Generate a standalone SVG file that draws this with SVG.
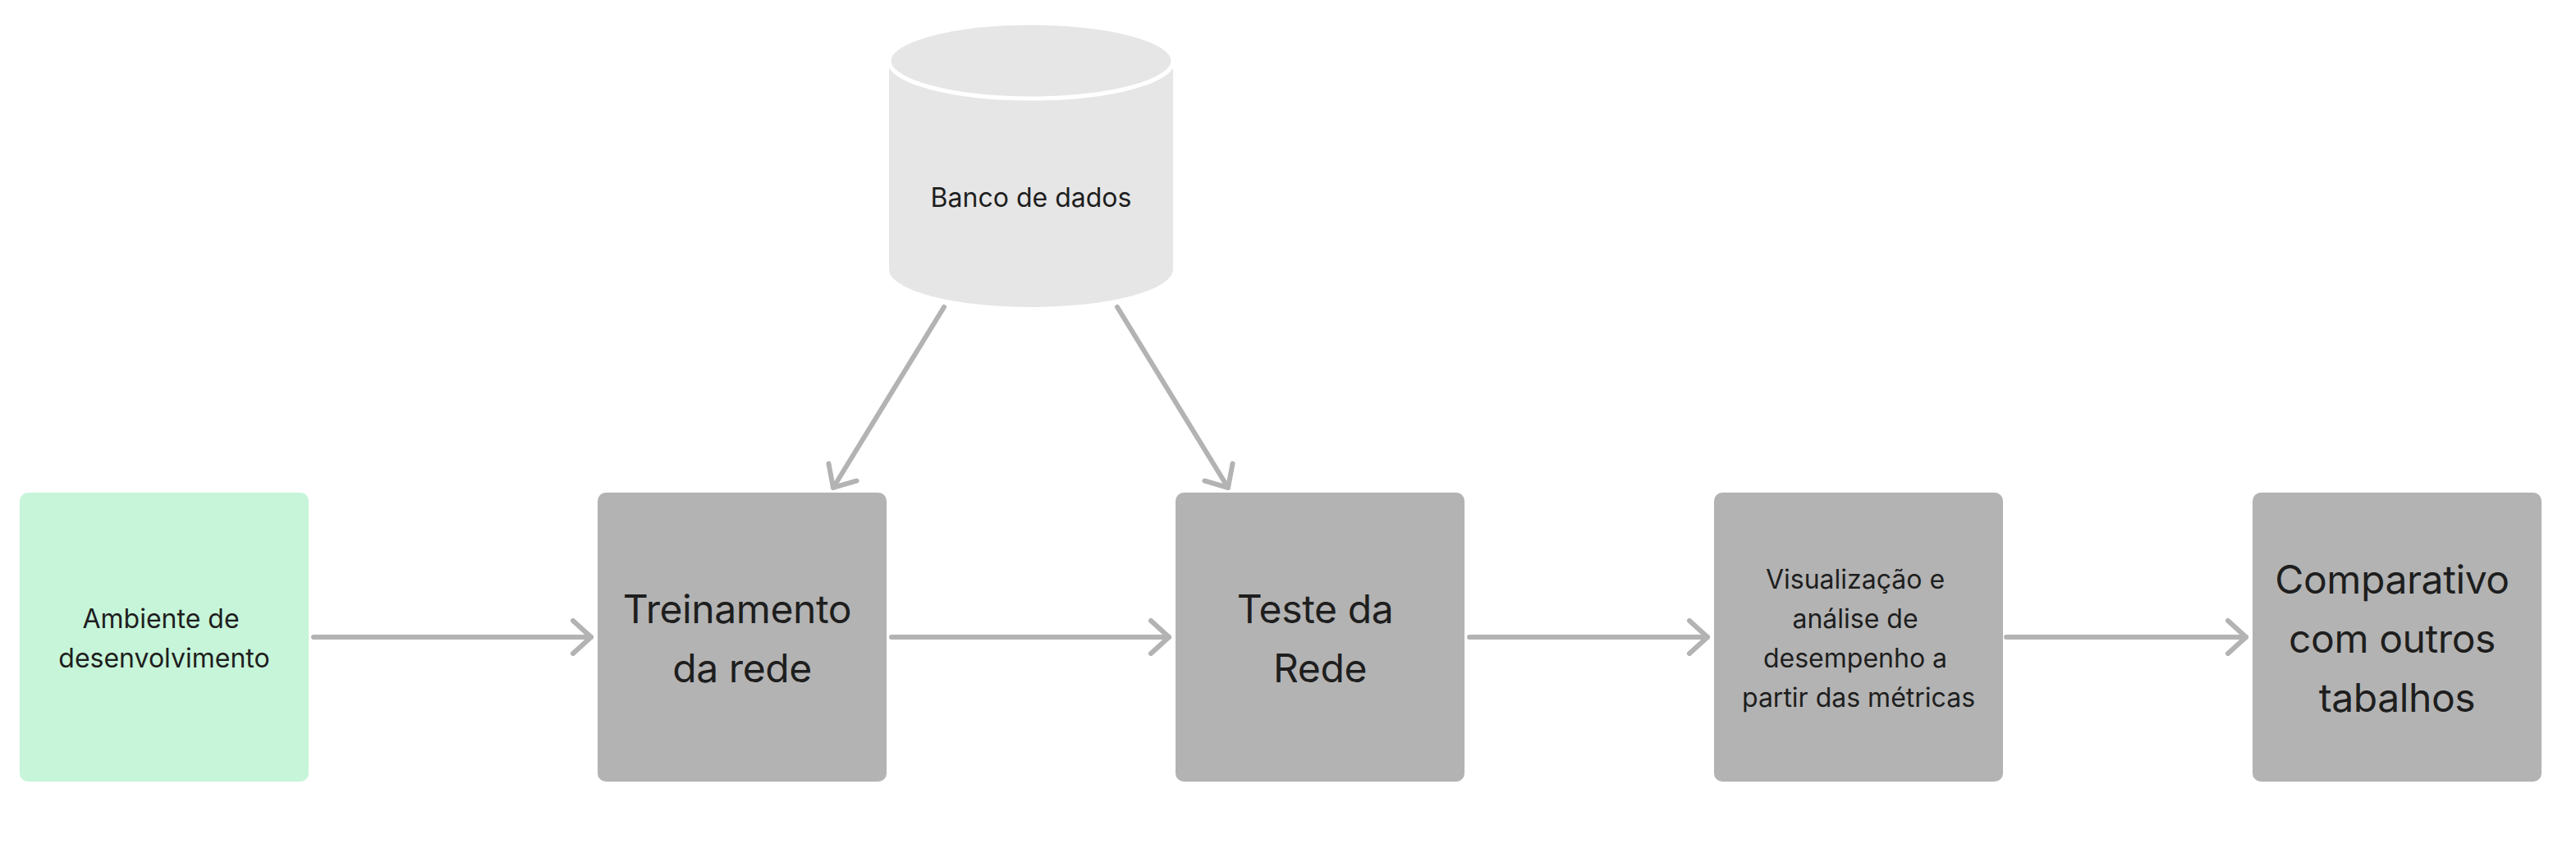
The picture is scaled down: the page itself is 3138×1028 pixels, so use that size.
<svg xmlns="http://www.w3.org/2000/svg" width="3138" height="1028" viewBox="0 0 3138 1028">
<style>
.box{fill:#b3b3b3}
.green{fill:#c7f5d9}
.t{font-family:Inter,"Liberation Sans",sans-serif;fill:#1e1e1e;text-anchor:middle}
.s{font-size:32px}
.l{font-size:48px;letter-spacing:-0.4px}
.conn{stroke:#b3b3b3;stroke-width:6;fill:none;stroke-linecap:round;marker-end:url(#chev)}
</style>
<defs>
<marker id="chev" markerUnits="userSpaceOnUse" viewBox="-30 -30 40 60" markerWidth="40" markerHeight="60" refX="0" refY="0" orient="auto" overflow="visible">
<path d="M -22 -20 L 0 0 L -22 20" fill="none" stroke="#b3b3b3" stroke-width="6" stroke-linecap="round" stroke-linejoin="round"/>
</marker>
</defs>
<rect width="3138" height="1028" fill="#ffffff"/>
<g id="connectors">
<line class="conn" x1="382" y1="776" x2="720" y2="776"/>
<line class="conn" x1="1086" y1="776" x2="1424" y2="776"/>
<line class="conn" x1="1790" y1="776" x2="2080" y2="776"/>
<line class="conn" x1="2444" y1="776" x2="2736" y2="776"/>
<line class="conn" x1="1150" y1="374" x2="1015" y2="594"/>
<line class="conn" x1="1361" y1="374" x2="1496" y2="594"/>
</g>
<g id="banco">
<path d="M 1083 74 L 1083 328 A 173 46 0 0 0 1429 328 L 1429 74 Z" fill="#e6e6e6"/>
<ellipse cx="1256" cy="74" rx="173" ry="46" fill="#e6e6e6" stroke="#ffffff" stroke-width="5"/>
<text class="t s" x="1256" y="252">Banco de dados</text>
</g>
<g id="ambiente">
<rect class="green" x="24" y="600" width="352" height="352" rx="10"/>
<text class="t s" x="196" y="765">Ambiente de</text>
<text class="t s" x="200" y="813">desenvolvimento</text>
</g>
<g id="treinamento">
<rect class="box" x="728" y="600" width="352" height="352" rx="10"/>
<text class="t l" x="898" y="759">Treinamento</text>
<text class="t l" x="904" y="831">da rede</text>
</g>
<g id="teste">
<rect class="box" x="1432" y="600" width="352" height="352" rx="10"/>
<text class="t l" x="1602" y="759">Teste da</text>
<text class="t l" x="1608" y="831">Rede</text>
</g>
<g id="visualizacao">
<rect class="box" x="2088" y="600" width="352" height="352" rx="10"/>
<text class="t s" x="2260" y="717">Visualização e</text>
<text class="t s" x="2260" y="765">análise de</text>
<text class="t s" x="2260" y="813">desempenho a</text>
<text class="t s" x="2264" y="861">partir das métricas</text>
</g>
<g id="comparativo">
<rect class="box" x="2744" y="600" width="352" height="352" rx="10"/>
<text class="t l" x="2914" y="723">Comparativo</text>
<text class="t l" x="2914" y="795">com outros</text>
<text class="t l" x="2920" y="867">tabalhos</text>
</g>
</svg>
